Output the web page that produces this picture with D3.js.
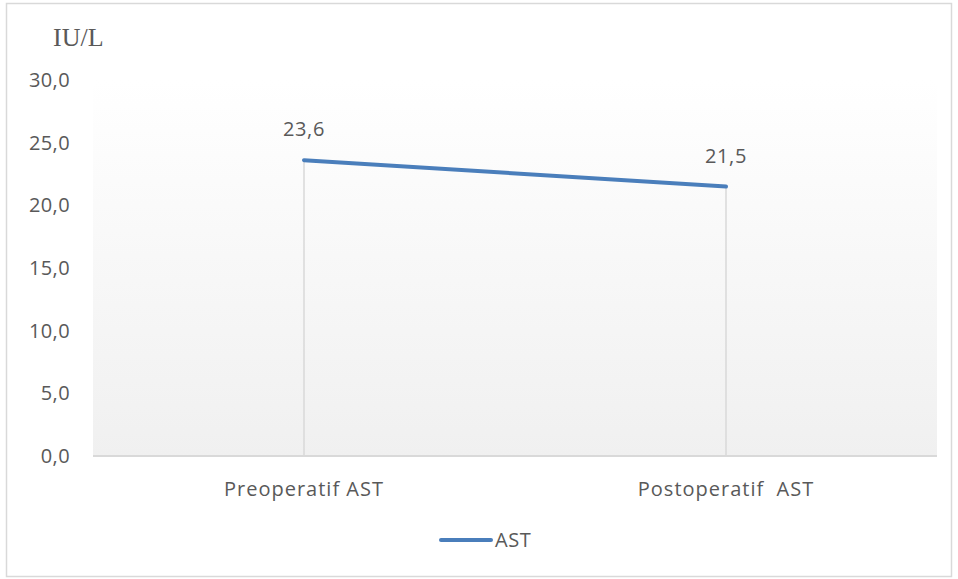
<!DOCTYPE html>
<html>
<head>
<meta charset="utf-8">
<script src="https://cdn.jsdelivr.net/npm/d3@7"></script>
<style>
  body { margin: 0; background: #fff; }
  text { font-family: "Open Sans", sans-serif; fill: #595959; }
</style>
</head>
<body>
<svg id="chart" width="958" height="579"></svg>
<script>
var categories = ["Preoperatif AST", "Postoperatif  AST"];
var astValues = [23.6, 21.5];
var valueLabels = ["23,6", "21,5"];
var yTicks = [0, 5, 10, 15, 20, 25, 30];
var seriesName = "AST";
var unitLabel = "IU/L";

var svg = d3.select("#chart");
var margin = { left: 93, right: 21, top: 80, bottom: 123 };
var width = 958 - margin.left - margin.right;
var height = 579 - margin.top - margin.bottom;
var fs = "20px";

// outer chart border
svg.append("rect")
    .attr("x", 6.5).attr("y", 3.5)
    .attr("width", 945).attr("height", 573)
    .attr("fill", "#fff")
    .attr("stroke", "#d9d9d9").attr("stroke-width", 1.5);

var defs = svg.append("defs");
var grad = defs.append("linearGradient")
    .attr("id", "bg").attr("x1", 0).attr("y1", 0).attr("x2", 0).attr("y2", 1);
grad.append("stop").attr("offset", "0%").attr("stop-color", "#ffffff");
grad.append("stop").attr("offset", "100%").attr("stop-color", "#f0f0f0");

var g = svg.append("g").attr("transform", "translate(" + margin.left + "," + margin.top + ")");

var x = d3.scalePoint().domain(categories).range([0, width]).padding(0.5);
var y = d3.scaleLinear().domain([0, 30]).range([height, 0]);

g.append("rect")
    .attr("width", width).attr("height", height)
    .attr("fill", "url(#bg)");

// y axis labels
g.selectAll(".ytick")
    .data(yTicks)
    .enter().append("text")
    .attr("class", "ytick")
    .attr("x", -23)
    .attr("y", d => y(d))
    .attr("dy", "0.35em")
    .attr("text-anchor", "end")
    .style("font-size", fs)
    .style("letter-spacing", "0.4px")
    .text(d => d3.format(".1f")(d).replace(".", ","));

// drop lines
var data = categories.map((c, i) => ({ cat: c, v: astValues[i], label: valueLabels[i] }));
g.selectAll(".drop")
    .data(data)
    .enter().append("line")
    .attr("x1", d => x(d.cat)).attr("x2", d => x(d.cat))
    .attr("y1", d => y(d.v)).attr("y2", height)
    .attr("stroke", "#d9d9d9").attr("stroke-width", 1.5);

// x axis line
g.append("line")
    .attr("x1", 0).attr("x2", width)
    .attr("y1", height).attr("y2", height)
    .attr("stroke", "#d9d9d9").attr("stroke-width", 2);

// x labels
g.selectAll(".xlab")
    .data(categories)
    .enter().append("text")
    .attr("x", d => x(d))
    .attr("y", height + 40)
    .attr("text-anchor", "middle")
    .style("font-size", fs)
    .style("letter-spacing", "1px")
    .style("white-space", "pre")
    .text(d => d);

// the series line
var line = d3.line().x(d => x(d.cat)).y(d => y(d.v));
g.append("path")
    .attr("d", line(data))
    .attr("fill", "none")
    .attr("stroke", "#4a7ebb")
    .attr("stroke-width", 4)
    .attr("stroke-linecap", "round");

// data labels
g.selectAll(".vlab")
    .data(data)
    .enter().append("text")
    .attr("x", d => x(d.cat))
    .attr("y", d => y(d.v) - 24)
    .attr("text-anchor", "middle")
    .style("font-size", fs)
    .style("letter-spacing", "0.6px")
    .text(d => d.label);

// unit label
svg.append("text")
    .attr("x", 53).attr("y", 46)
    .style("font-family", "'Liberation Serif', 'DejaVu Serif', serif")
    .style("font-size", "26px")
    .text(unitLabel);

// legend
var leg = svg.append("g").attr("transform", "translate(441,540)");
leg.append("line")
    .attr("x1", 0).attr("x2", 50).attr("y1", 0).attr("y2", 0)
    .attr("stroke", "#4a7ebb").attr("stroke-width", 4).attr("stroke-linecap", "round");
leg.append("text")
    .attr("x", 54).attr("y", 0).attr("dy", "0.35em")
    .style("font-size", fs)
    .style("letter-spacing", "0.6px")
    .text(seriesName);
</script>
</body>
</html>
